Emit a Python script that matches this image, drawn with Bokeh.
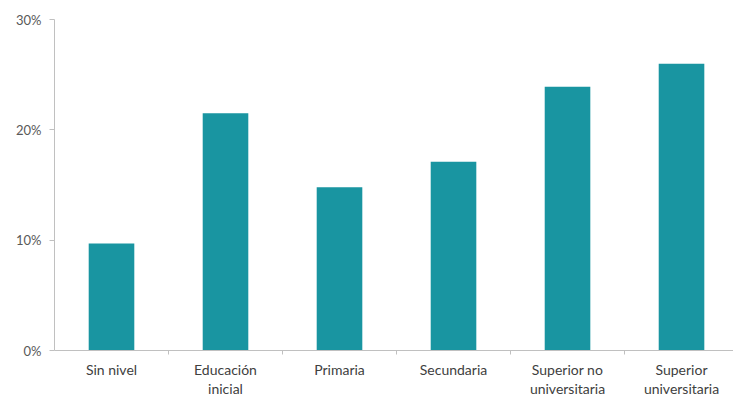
from bokeh.plotting import figure
from bokeh.models import Range1d, FixedTicker, NumeralTickFormatter, ColumnDataSource
from bokeh.embed import file_html
from bokeh.resources import INLINE

categories = ["Sin nivel", "Educación\ninicial", "Primaria", "Secundaria",
              "Superior no\nuniversitaria", "Superior\nuniversitaria"]
values = [0.097, 0.215, 0.148, 0.171, 0.239, 0.260]
y_ticks = [0.0, 0.10, 0.20, 0.30]

xpos = [i + 0.5 for i in range(len(categories))]
src = ColumnDataSource(dict(x=xpos, top=values))

p = figure(width=733, height=400, output_backend="svg", toolbar_location=None,
           x_range=Range1d(0, 5.956), y_range=Range1d(0, 0.30),
           min_border_left=54, min_border_right=0, min_border_top=19, min_border_bottom=42)
p.outline_line_color = None
p.xgrid.grid_line_color = None
p.ygrid.grid_line_color = None
p.background_fill_color = "white"

p.vbar(x="x", top="top", width=0.4, bottom=0, source=src, color="#1995a1", line_color=None)

xa = p.xaxis[0]
xa.ticker = FixedTicker(ticks=xpos, minor_ticks=[1, 2, 3, 4, 5])
xa.major_label_overrides = {x: c for x, c in zip(xpos, categories)}
xa.major_tick_line_color = None
xa.minor_tick_out = 4
xa.minor_tick_in = 0
xa.minor_tick_line_color = "#c0c0c0"
xa.axis_line_color = "#c0c0c0"
xa.major_label_text_font = "Lato"
xa.major_label_text_font_size = "14px"
xa.major_label_text_color = "#404040"
xa.major_label_standoff = 4
xa.major_label_text_line_height = 1.15

ya = p.yaxis[0]
ya.ticker = FixedTicker(ticks=y_ticks)
ya.formatter = NumeralTickFormatter(format="0%")
ya.minor_tick_line_color = None
ya.major_tick_out = 5
ya.major_tick_in = 0
ya.major_tick_line_color = "#c0c0c0"
ya.axis_line_color = "#c0c0c0"
ya.major_label_text_font = "Lato"
ya.major_label_text_font_size = "13px"
ya.major_label_text_color = "#595959"
ya.major_label_standoff = 8

open("out.html", "w").write(file_html(p, INLINE))
